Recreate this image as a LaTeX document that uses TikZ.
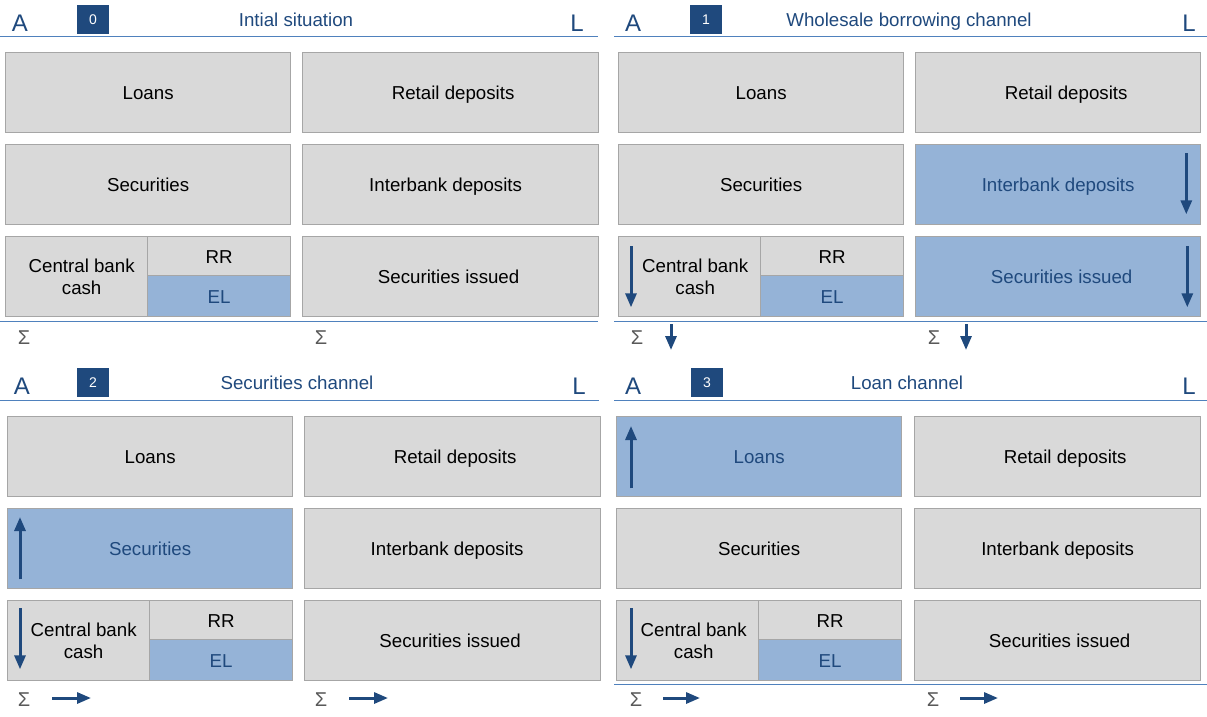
\documentclass[tikz,border=0pt]{standalone}
\usepackage{fontspec}
\setmainfont{Liberation Sans}
\usetikzlibrary{arrows.meta}
\definecolor{balBoxFill}{RGB}{217,217,217}
\definecolor{balBoxLine}{RGB}{166,166,166}
\definecolor{balHiFill}{RGB}{149,179,215}
\definecolor{balNavy}{RGB}{31,73,125}
\definecolor{balRule}{RGB}{79,129,189}
\definecolor{balSigma}{RGB}{89,89,89}

\begin{document}
\begin{tikzpicture}[x=1pt, y=-1pt,
  box/.style={draw=balBoxLine, fill=balBoxFill, line width=1.3pt, inner sep=0pt,
    anchor=north west, minimum height=80pt, text height=14.4pt, text depth=0pt,
    font=\fontsize{18.7}{22}\selectfont},
  assetbox/.style={box, minimum width=285pt},
  liabbox/.style={box, minimum width=#1},
  liabbox/.default=296pt,
  hl/.style={fill=balHiFill, text=balNavy},
  nudge/.style={execute at begin node={\hspace*{#1}}},
  cashbox/.style={draw=balBoxLine, fill=balBoxFill, line width=1.3pt, inner sep=0pt,
    anchor=north west, minimum width=142pt, minimum height=80pt, align=center,
    font=\fontsize{18.7}{22}\selectfont},
  rrbox/.style={box, minimum width=143pt, minimum height=39pt},
  elbox/.style={box, hl, minimum width=143pt, minimum height=41pt},
  sidelabel/.style={text=balNavy, inner sep=0pt, font=\fontsize{24}{24}\selectfont},
  badge/.style={fill=balNavy, text=white, minimum width=32pt, minimum height=29pt,
    inner sep=0pt, font=\fontsize{14}{14}\selectfont},
  paneltitle/.style={text=balNavy, inner sep=0pt, text height=13.4pt, text depth=0pt,
    font=\fontsize{18.7}{22}\selectfont},
  hdrrule/.style={draw=balRule, line width=1pt},
  sigma/.style={text=balSigma, inner sep=0pt, font=\fontsize{20}{20}\selectfont},
  flow/.style={draw=balNavy, line width=3pt, -{Triangle[length=14pt, width=11pt]}},
]
% Balance sheet panels, pixel grid of the slide
\useasboundingbox (0,0) rectangle (1207,716);

% Panel 0: initial situation
\begin{scope}
  \node[sidelabel] (a0) at (20,23) {A};
  \node[badge] (n0) at (93,19.5) {0};
  \node[paneltitle] (t0) at (296,20) {Intial situation};
  \node[sidelabel] (l0) at (577,23) {L};
  \draw[hdrrule] (0,36) -- (598,36);
  \node[assetbox] (loans0) at (5,52) {Loans};
  \node[liabbox, nudge=5pt] (retail0) at (302,52) {Retail deposits};
  \node[assetbox] (sec0) at (5,144) {Securities};
  \node[liabbox, nudge=-10pt] (ib0) at (302,144) {Interbank deposits};
  \node[cashbox] (cash0) at (5,236) {\hspace*{10pt}Central bank\\\hspace*{10pt}cash};
  \node[rrbox] (rr0) at (147,236) {RR};
  \node[elbox] (el0) at (147,275) {EL};
  \node[liabbox, nudge=-4pt] (iss0) at (302,236) {Securities issued};
  \draw[hdrrule] (0,321) -- (598,321);
  \node[sigma] (sa0) at (24,338) {Σ};
  \node[sigma] (sl0) at (321,338) {Σ};
\end{scope}

% Panel 1: wholesale borrowing channel
\begin{scope}[shift={(613,0)}]
  \node[sidelabel] (a1) at (20,23) {A};
  \node[badge] (n1) at (93,19.5) {1};
  \node[paneltitle] (t1) at (296,20) {Wholesale borrowing channel};
  \node[sidelabel] (l1) at (576,23) {L};
  \draw[hdrrule] (1,36) -- (600,36);
  \node[assetbox] (loans1) at (5,52) {Loans};
  \node[liabbox=285pt, nudge=16pt] (retail1) at (302,52) {Retail deposits};
  \node[assetbox] (sec1) at (5,144) {Securities};
  \node[liabbox=285pt, hl] (ib1) at (302,144) {Interbank deposits};
  \node[cashbox] (cash1) at (5,236) {\hspace*{11pt}Central bank\\\hspace*{11pt}cash};
  \node[rrbox] (rr1) at (147,236) {RR};
  \node[elbox] (el1) at (147,275) {EL};
  \node[liabbox=285pt, hl, nudge=7pt] (iss1) at (302,236) {Securities issued};
  \draw[hdrrule] (1,321) -- (600,321);
  \node[sigma] (sa1) at (24,338) {Σ};
  \node[sigma] (sl1) at (321,338) {Σ};
  % changes
  \draw[flow] ([xshift=-15pt, yshift=-9pt]ib1.north east) -- ([xshift=-15pt, yshift=11pt]ib1.south east);
  \draw[flow] ([xshift=-14pt, yshift=-10pt]iss1.north east) -- ([xshift=-14pt, yshift=10pt]iss1.south east);
  \draw[flow] ([xshift=13pt, yshift=-10pt]cash1.north west) -- ([xshift=13pt, yshift=10pt]cash1.south west);
  \draw[flow] ([xshift=34pt, yshift=14pt]sa1.center) -- ([xshift=34pt, yshift=-12pt]sa1.center);
  \draw[flow] ([xshift=32pt, yshift=14pt]sl1.center) -- ([xshift=32pt, yshift=-12pt]sl1.center);
\end{scope}

% Panel 2: securities channel
\begin{scope}[shift={(2,364)}]
  \node[sidelabel] (a2) at (20,22) {A};
  \node[badge] (n2) at (91,18.5) {2};
  \node[paneltitle] (t2) at (295,19) {Securities channel};
  \node[sidelabel] (l2) at (577,22) {L};
  \draw[hdrrule] (-2,36) -- (597,36);
  \node[assetbox] (loans2) at (5,52) {Loans};
  \node[liabbox, nudge=5pt] (retail2) at (302,52) {Retail deposits};
  \node[assetbox, hl] (sec2) at (5,144) {Securities};
  \node[liabbox, nudge=-11pt] (ib2) at (302,144) {Interbank deposits};
  \node[cashbox] (cash2) at (5,236) {\hspace*{10pt}Central bank\\\hspace*{10pt}cash};
  \node[rrbox] (rr2) at (147,236) {RR};
  \node[elbox] (el2) at (147,275) {EL};
  \node[liabbox, nudge=-5pt] (iss2) at (302,236) {Securities issued};
  \node[sigma] (sa2) at (22,336) {Σ};
  \node[sigma] (sl2) at (319,336) {Σ};
  % changes
  \draw[flow] ([xshift=13pt, yshift=10pt]sec2.south west) -- ([xshift=13pt, yshift=-9pt]sec2.north west);
  \draw[flow] ([xshift=13pt, yshift=-8pt]cash2.north west) -- ([xshift=13pt, yshift=12pt]cash2.south west);
  \draw[flow] ([xshift=28pt, yshift=2pt]sa2.center) -- ([xshift=67pt, yshift=2pt]sa2.center);
  \draw[flow] ([xshift=28pt, yshift=2pt]sl2.center) -- ([xshift=67pt, yshift=2pt]sl2.center);
\end{scope}

% Panel 3: loan channel
\begin{scope}[shift={(611,364)}]
  \node[sidelabel] (a3) at (22,22) {A};
  \node[badge] (n3) at (96,18.5) {3};
  \node[paneltitle] (t3) at (296,19) {Loan channel};
  \node[sidelabel] (l3) at (578,22) {L};
  \draw[hdrrule] (3,36) -- (600,36);
  \node[assetbox, hl] (loans3) at (5,52) {Loans};
  \node[liabbox=286pt, nudge=15pt] (retail3) at (303,52) {Retail deposits};
  \node[assetbox] (sec3) at (5,144) {Securities};
  \node[liabbox=286pt] (ib3) at (303,144) {Interbank deposits};
  \node[cashbox] (cash3) at (5,236) {\hspace*{12pt}Central bank\\\hspace*{12pt}cash};
  \node[rrbox] (rr3) at (147,236) {RR};
  \node[elbox] (el3) at (147,275) {EL};
  \node[liabbox=286pt, nudge=4pt] (iss3) at (303,236) {Securities issued};
  \draw[hdrrule] (3,320) -- (600,320);
  \node[sigma] (sa3) at (25,336) {Σ};
  \node[sigma] (sl3) at (322,336) {Σ};
  % changes
  \draw[flow] ([xshift=15pt, yshift=9pt]loans3.south west) -- ([xshift=15pt, yshift=-10pt]loans3.north west);
  \draw[flow] ([xshift=15pt, yshift=-8pt]cash3.north west) -- ([xshift=15pt, yshift=12pt]cash3.south west);
  \draw[flow] ([xshift=27pt, yshift=2pt]sa3.center) -- ([xshift=64pt, yshift=2pt]sa3.center);
  \draw[flow] ([xshift=27pt, yshift=2pt]sl3.center) -- ([xshift=65pt, yshift=2pt]sl3.center);
\end{scope}
\end{tikzpicture}
\end{document}
